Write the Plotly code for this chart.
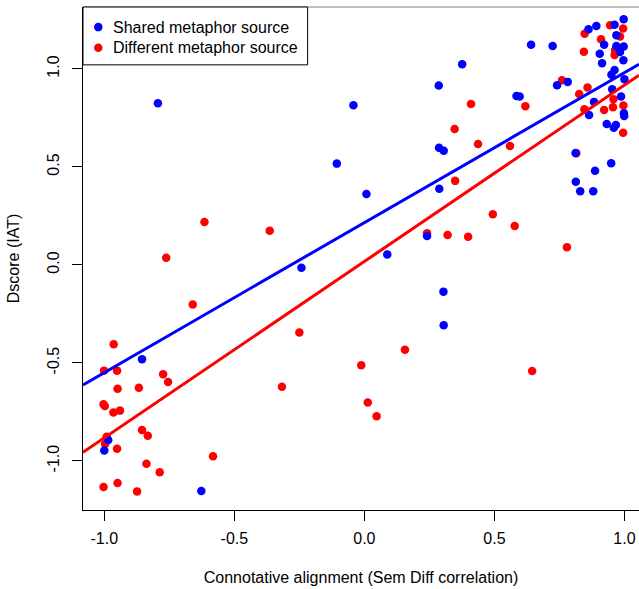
import plotly.graph_objects as go

# Shared metaphor source (blue)
shared_x = [-0.855, -0.985, -1.000, -0.627, -0.794, -0.242, -0.042, -0.106, 0.008, 0.088,
            0.304, 0.305, 0.641, 0.724, 0.376, 0.286, 0.741, 0.585, 0.597, 0.287,
            0.305, 0.288, 0.241, 0.782, 0.812, 0.887, 0.949, 0.813, 0.830, 0.880,
            0.997, 0.962, 0.892, 0.862, 0.969, 0.922, 0.969, 0.997, 0.981, 0.983,
            0.905, 0.914, 0.996, 0.962, 0.950, 1.000, 0.953, 0.987, 0.883, 0.864,
            0.998, 0.999, 0.932, 0.967, 0.959]
shared_y = [-0.481, -0.893, -0.946, -1.153, 0.825, -0.014, 0.815, 0.517, 0.362, 0.054,
            -0.136, -0.308, 1.124, 1.117, 1.024, 0.915, 0.917, 0.862, 0.859, 0.598,
            0.583, 0.389, 0.148, 0.934, 0.571, 0.481, 0.519, 0.425, 0.376, 0.376,
            1.253, 1.226, 1.219, 1.202, 1.172, 1.124, 1.117, 1.114, 1.106, 1.087,
            1.077, 1.029, 1.044, 0.995, 0.971, 0.947, 0.896, 0.859, 0.832, 0.765,
            0.774, 0.760, 0.719, 0.714, 0.700]

# Different metaphor source (red)
diff_x = [-0.964, -1.001, -0.951, -0.774, -0.755, -0.949, -0.867, -1.003, -0.998, -0.965,
          -0.940, -0.855, -0.833, -0.991, -0.997, -0.951, -0.582, -0.838, -0.787, -1.003,
          -0.949, -0.874, -0.615, -0.762, -0.364, -0.660, -0.250, -0.317, 0.156, -0.012,
          0.645, 0.013, 0.047, 0.410, 0.619, 0.347, 0.437, 0.560, 0.349, 0.494,
          0.578, 0.241, 0.320, 0.399, 0.779, 0.760, 0.815, 0.995, 0.945, 0.847,
          0.983, 0.910, 0.964, 0.962, 0.844, 0.858, 0.826, 0.958, 0.846, 0.922,
          0.956, 0.996, 0.995]
diff_y = [-0.405, -0.539, -0.539, -0.558, -0.597, -0.631, -0.626, -0.711, -0.720, -0.753,
          -0.743, -0.842, -0.871, -0.876, -0.913, -0.937, -0.976, -1.014, -1.058, -1.133,
          -1.112, -1.155, 0.219, 0.037, 0.175, -0.202, -0.345, -0.621, -0.432, -0.512,
          -0.541, -0.702, -0.772, 0.821, 0.810, 0.694, 0.617, 0.607, 0.429, 0.259,
          0.199, 0.162, 0.153, 0.144, 0.090, 0.942, 0.570, 1.206, 1.223, 1.180,
          1.165, 1.151, 1.097, 1.071, 1.088, 0.905, 0.872, 0.845, 0.794, 0.791,
          0.804, 0.813, 0.675]

# Regression fits (intercept, slope)
shared_fit = [0.216, 0.765]
diff_fit = [0.018, 0.900]

series_names = ["Shared metaphor source", "Different metaphor source"]

x_range = [-1.082, 1.056]
y_range = [-1.25, 1.316]

x_ticks = [-1.0, -0.5, 0.0, 0.5, 1.0]
x_ticklabels = ["-1.0", "-0.5", "0.0", "0.5", "1.0"]
y_ticks = [-1.0, -0.5, 0.0, 0.5, 1.0]
y_ticklabels = ["-1.0", "-0.5", "0.0", "0.5", "1.0"]

BLUE = "#0000FF"
RED = "#FF0000"
FONT = "Liberation Sans, Arial, sans-serif"
MS = 8.5

fig = go.Figure()
fig.add_trace(go.Scatter(x=diff_x, y=diff_y, mode="markers", name=series_names[1],
                         marker=dict(color=RED, size=MS, line=dict(width=0)), showlegend=False))
fig.add_trace(go.Scatter(x=shared_x, y=shared_y, mode="markers", name=series_names[0],
                         marker=dict(color=BLUE, size=MS, line=dict(width=0)), showlegend=False))

line_x = list(x_range)
fig.add_trace(go.Scatter(x=line_x, y=[shared_fit[0] + shared_fit[1] * v for v in line_x],
                         mode="lines", line=dict(color=BLUE, width=3), showlegend=False,
                         hoverinfo="skip"))
fig.add_trace(go.Scatter(x=line_x, y=[diff_fit[0] + diff_fit[1] * v for v in line_x],
                         mode="lines", line=dict(color=RED, width=3), showlegend=False,
                         hoverinfo="skip"))

fig.update_layout(
    width=639, height=589,
    margin=dict(l=83, r=0, t=7, b=79, autoexpand=False),
    paper_bgcolor="white", plot_bgcolor="white",
    font=dict(family=FONT, size=16, color="black"),
    showlegend=False,
    xaxis=dict(range=x_range, showgrid=False, zeroline=False, showline=True,
               linecolor="black", linewidth=1, ticks="outside", ticklen=10,
               tickcolor="black", tickvals=x_ticks, ticktext=x_ticklabels,
               ticklabelstandoff=4, automargin=False,
               title=dict(text="Connotative alignment (Sem Diff correlation)",
                          font=dict(size=16), standoff=25)),
    yaxis=dict(range=y_range, showgrid=False, zeroline=False, showline=True,
               linecolor="black", linewidth=1, ticks="outside", ticklen=10,
               tickcolor="black", tickvals=y_ticks, ticktext=y_ticklabels,
               tickangle=-90, ticklabelstandoff=7, automargin=False,
               title=dict(text="Dscore (IAT)", font=dict(size=16), standoff=20)),
)
# top frame edge
fig.add_shape(type="line", xref="paper", yref="paper", x0=0, x1=1, y0=1, y1=1,
              line=dict(color="#808080", width=1))

# legend box (paper coordinates)
fig.add_shape(type="rect", xref="paper", yref="paper", x0=0, x1=0.404, y0=0.885, y1=1,
              line=dict(color="black", width=1), fillcolor="white", layer="above")
legend_colors = [BLUE, RED]
legend_y = [0.9600, 0.9190]
for name, col, ly in zip(series_names, legend_colors, legend_y):
    fig.add_shape(type="circle", xref="paper", yref="paper", xsizemode="pixel",
                  ysizemode="pixel", xanchor=0.0275, yanchor=ly,
                  x0=-MS / 2, x1=MS / 2, y0=-MS / 2, y1=MS / 2,
                  fillcolor=col, line=dict(width=0), layer="above")
    fig.add_annotation(xref="paper", yref="paper", x=0.0500, y=ly, text=name,
                       showarrow=False, xanchor="left", yanchor="middle",
                       font=dict(size=16, color="black"))

fig.write_html("out.html")
